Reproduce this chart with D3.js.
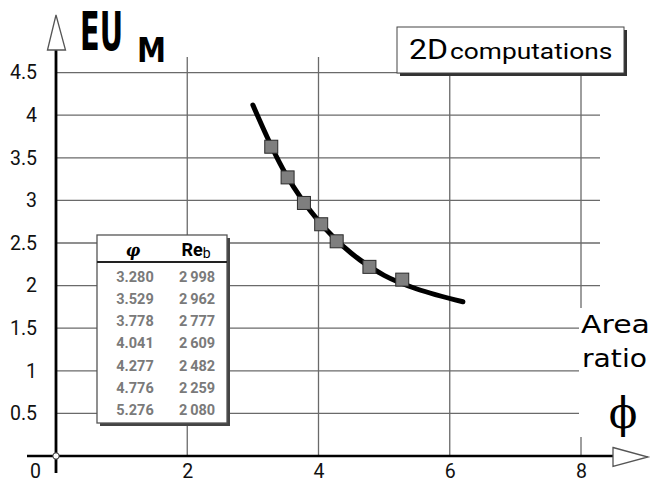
<!DOCTYPE html>
<html><head><meta charset="utf-8">
<script src="https://cdn.jsdelivr.net/npm/d3@7"></script>
<style>
html,body{margin:0;padding:0;background:#fff;}
svg{display:block;}
</style></head>
<body>
<script>
// ---- data ----
const phi = [3.280, 3.529, 3.778, 4.041, 4.277, 4.776, 5.276];
const reb = [2998, 2962, 2777, 2609, 2482, 2259, 2080];
const euM = [3.63, 3.27, 2.97, 2.72, 2.52, 2.22, 2.07];
const fitPhi = [3.0, 3.5, 4.0, 4.5, 5.0, 5.5, 6.2];
const fitEu = [4.12, 3.31, 2.76, 2.38, 2.12, 1.96, 1.81];
const xTicks = [0, 2, 4, 6, 8];
const yTicks = [0.5, 1, 1.5, 2, 2.5, 3, 3.5, 4, 4.5];
const tableHeaders = ["φ", "Re"];
const titleText = "2D computations";
const yLabel = ["EU", "M"];
const xLabel = ["Area", "ratio", "\u03D5"];

const W = 655, H = 487;
const svg = d3.select("body").append("svg").attr("width", W).attr("height", H);
const x = d3.scaleLinear().domain([0, 8]).range([56, 581]);
const y = d3.scaleLinear().domain([0, 4.5]).range([456, 72.6]);
const grid = "#6a6a6a";

// fit a text element horizontally into a given width by scaling
function squeeze(sel, x0, y0, width) {
  const w = sel.node().getComputedTextLength();
  sel.attr("x", 0).attr("y", 0)
    .attr("transform", `translate(${x0},${y0}) scale(${width / w},1)`);
}

// gridlines
const gTop = 57;
svg.append("g").selectAll("line").data(xTicks.filter(d => d > 0 && d < 8)).join("line")
  .attr("x1", d => x(d)).attr("x2", d => x(d)).attr("y1", gTop).attr("y2", y(0))
  .attr("stroke", grid).attr("stroke-width", 1.3);
svg.append("line").attr("x1", x(8)).attr("x2", x(8)).attr("y1", gTop).attr("y2", 308)
  .attr("stroke", grid).attr("stroke-width", 1.3);
svg.append("line").attr("x1", x(8)).attr("x2", x(8)).attr("y1", 437).attr("y2", y(0))
  .attr("stroke", grid).attr("stroke-width", 1.3);
svg.append("g").selectAll("line").data(yTicks).join("line")
  .attr("x1", x(0)).attr("x2", d => d <= 1.5 ? 579 : 600)
  .attr("y1", d => y(d)).attr("y2", d => y(d))
  .attr("stroke", grid).attr("stroke-width", 1.3);

// fitted curve
const line = d3.line().x(d => x(d[0])).y(d => y(d[1])).curve(d3.curveCatmullRom);
svg.append("path").datum(d3.zip(fitPhi, fitEu)).attr("d", line)
  .attr("fill", "none").attr("stroke", "#000").attr("stroke-width", 5).attr("stroke-linecap", "round");

// markers
const ms = 13;
svg.append("g").selectAll("rect").data(d3.zip(phi, euM)).join("rect")
  .attr("x", d => x(d[0]) - ms / 2).attr("y", d => y(d[1]) - ms / 2)
  .attr("width", ms).attr("height", ms)
  .attr("fill", "#7f7f7f").attr("stroke", "#2a2a2a").attr("stroke-width", 1);

// axes lines
svg.append("line").attr("x1", 27).attr("x2", 614).attr("y1", y(0)).attr("y2", y(0))
  .attr("stroke", "#000").attr("stroke-width", 2.6);
svg.append("line").attr("x1", x(0)).attr("x2", x(0)).attr("y1", 473).attr("y2", 50)
  .attr("stroke", "#000").attr("stroke-width", 2.8);
svg.append("path").attr("d", "M613,447.5 L648,457 L613,466.5 Z")
  .attr("fill", "#fff").attr("stroke", "#555").attr("stroke-width", 1.3);
svg.append("path").attr("d", "M47.5,50 L56,15 L65.5,50 Z")
  .attr("fill", "#fff").attr("stroke", "#555").attr("stroke-width", 1.3);
svg.append("circle").attr("cx", x(0)).attr("cy", y(0)).attr("r", 3.2)
  .attr("fill", "#fff").attr("stroke", "#333").attr("stroke-width", 1);

// tick labels via d3 axes
const tickFont = "Roboto, 'Liberation Sans', sans-serif";
const yAxis = svg.append("g").attr("transform", `translate(${x(0)},0)`)
  .call(d3.axisLeft(y).tickValues(yTicks).tickSize(0).tickPadding(19).tickFormat(d3.format("")));
yAxis.select(".domain").remove();
yAxis.selectAll("text").attr("font-family", tickFont).attr("font-size", 19.5).attr("fill", "#111");

const xAxis = svg.append("g").attr("transform", `translate(0,${y(0)})`)
  .call(d3.axisBottom(x).tickValues(xTicks).tickSize(0).tickPadding(8).tickFormat(d3.format("")));
xAxis.select(".domain").remove();
xAxis.selectAll("text").attr("font-family", tickFont).attr("font-size", 19.5).attr("fill", "#111")
  .attr("dx", d => d === 0 ? -21 : 0);

// y axis title
const eu = svg.append("text").text(yLabel[0])
  .attr("font-family", "'DejaVu Sans', sans-serif").attr("font-weight", "bold").attr("font-size", 53).attr("fill", "#000");
squeeze(eu, 80, 49.5, 43);
const em = svg.append("text").text(yLabel[1])
  .attr("font-family", "'DejaVu Sans', sans-serif").attr("font-weight", "bold").attr("font-size", 33).attr("fill", "#000");
squeeze(em, 137, 62, 29);

// x axis caption
const a1 = svg.append("text").text(xLabel[0])
  .attr("font-family", "'DejaVu Sans', sans-serif").attr("font-size", 25).attr("fill", "#000");
squeeze(a1, 581, 333, 69);
const a2 = svg.append("text").text(xLabel[1])
  .attr("font-family", "'DejaVu Sans', sans-serif").attr("font-size", 25).attr("fill", "#000");
squeeze(a2, 582, 367, 65);
svg.append("text").attr("x", 623).attr("y", 428).text(xLabel[2]).attr("text-anchor", "middle")
  .attr("font-family", "'DejaVu Serif', serif").attr("font-size", 42).attr("fill", "#000");

// title box
svg.append("rect").attr("x", 400).attr("y", 30).attr("width", 227).attr("height", 46).attr("fill", "#333");
svg.append("rect").attr("x", 397).attr("y", 27).attr("width", 227).attr("height", 46)
  .attr("fill", "#fff").attr("stroke", "#444").attr("stroke-width", 1);
const tt = svg.append("text").attr("fill", "#000").attr("font-family", "Roboto, sans-serif");
tt.append("tspan").text(titleText.split(" ")[0]).attr("font-size", 28);
tt.append("tspan").text(" " + titleText.split(" ")[1]).attr("font-size", 23).attr("dx", -4);
squeeze(tt, 409, 59, 208);

// table
const tx0 = 97, tx1 = 227, ty0 = 235, ty1 = 423;
svg.append("rect").attr("x", tx0 + 3).attr("y", ty0 + 3).attr("width", tx1 - tx0).attr("height", ty1 - ty0).attr("fill", "#444");
svg.append("rect").attr("x", tx0).attr("y", ty0).attr("width", tx1 - tx0).attr("height", ty1 - ty0)
  .attr("fill", "#fff").attr("stroke", "#555").attr("stroke-width", 1.3);
svg.append("line").attr("x1", tx0).attr("x2", tx1).attr("y1", 262).attr("y2", 262)
  .attr("stroke", "#222").attr("stroke-width", 2);
svg.append("text").attr("x", 133).attr("y", 256).attr("text-anchor", "middle").text(tableHeaders[0])
  .attr("font-family", "'DejaVu Serif', serif").attr("font-style", "italic").attr("font-weight", "bold")
  .attr("font-size", 16).attr("fill", "#000");
const rh = svg.append("text").attr("x", 196).attr("y", 256).attr("text-anchor", "middle")
  .attr("font-family", "Roboto, sans-serif").attr("font-weight", "bold").attr("font-size", 18).attr("fill", "#000");
rh.append("tspan").text(tableHeaders[1]);
rh.append("tspan").text("b").attr("font-size", 14).attr("font-weight", "normal").attr("dy", 2);

const rowY = d3.scalePoint().domain(d3.range(phi.length)).range([281.5, 415]);
const fmtRe = d => { const s = String(d); return s[0] + "\u2009" + s.slice(1); };
svg.append("g").selectAll("text").data(phi).join("text")
  .attr("x", 135).attr("y", (d, i) => rowY(i)).attr("text-anchor", "middle")
  .text(d => d3.format(".3f")(d))
  .attr("font-family", "Roboto, sans-serif").attr("font-weight", "bold").attr("font-size", 14.5).attr("fill", "#7a7a7a");
svg.append("g").selectAll("text").data(reb).join("text")
  .attr("x", 197).attr("y", (d, i) => rowY(i)).attr("text-anchor", "middle")
  .text(fmtRe)
  .attr("font-family", "Roboto, sans-serif").attr("font-weight", "bold").attr("font-size", 14.5).attr("fill", "#7a7a7a");
</script>
</body></html>
